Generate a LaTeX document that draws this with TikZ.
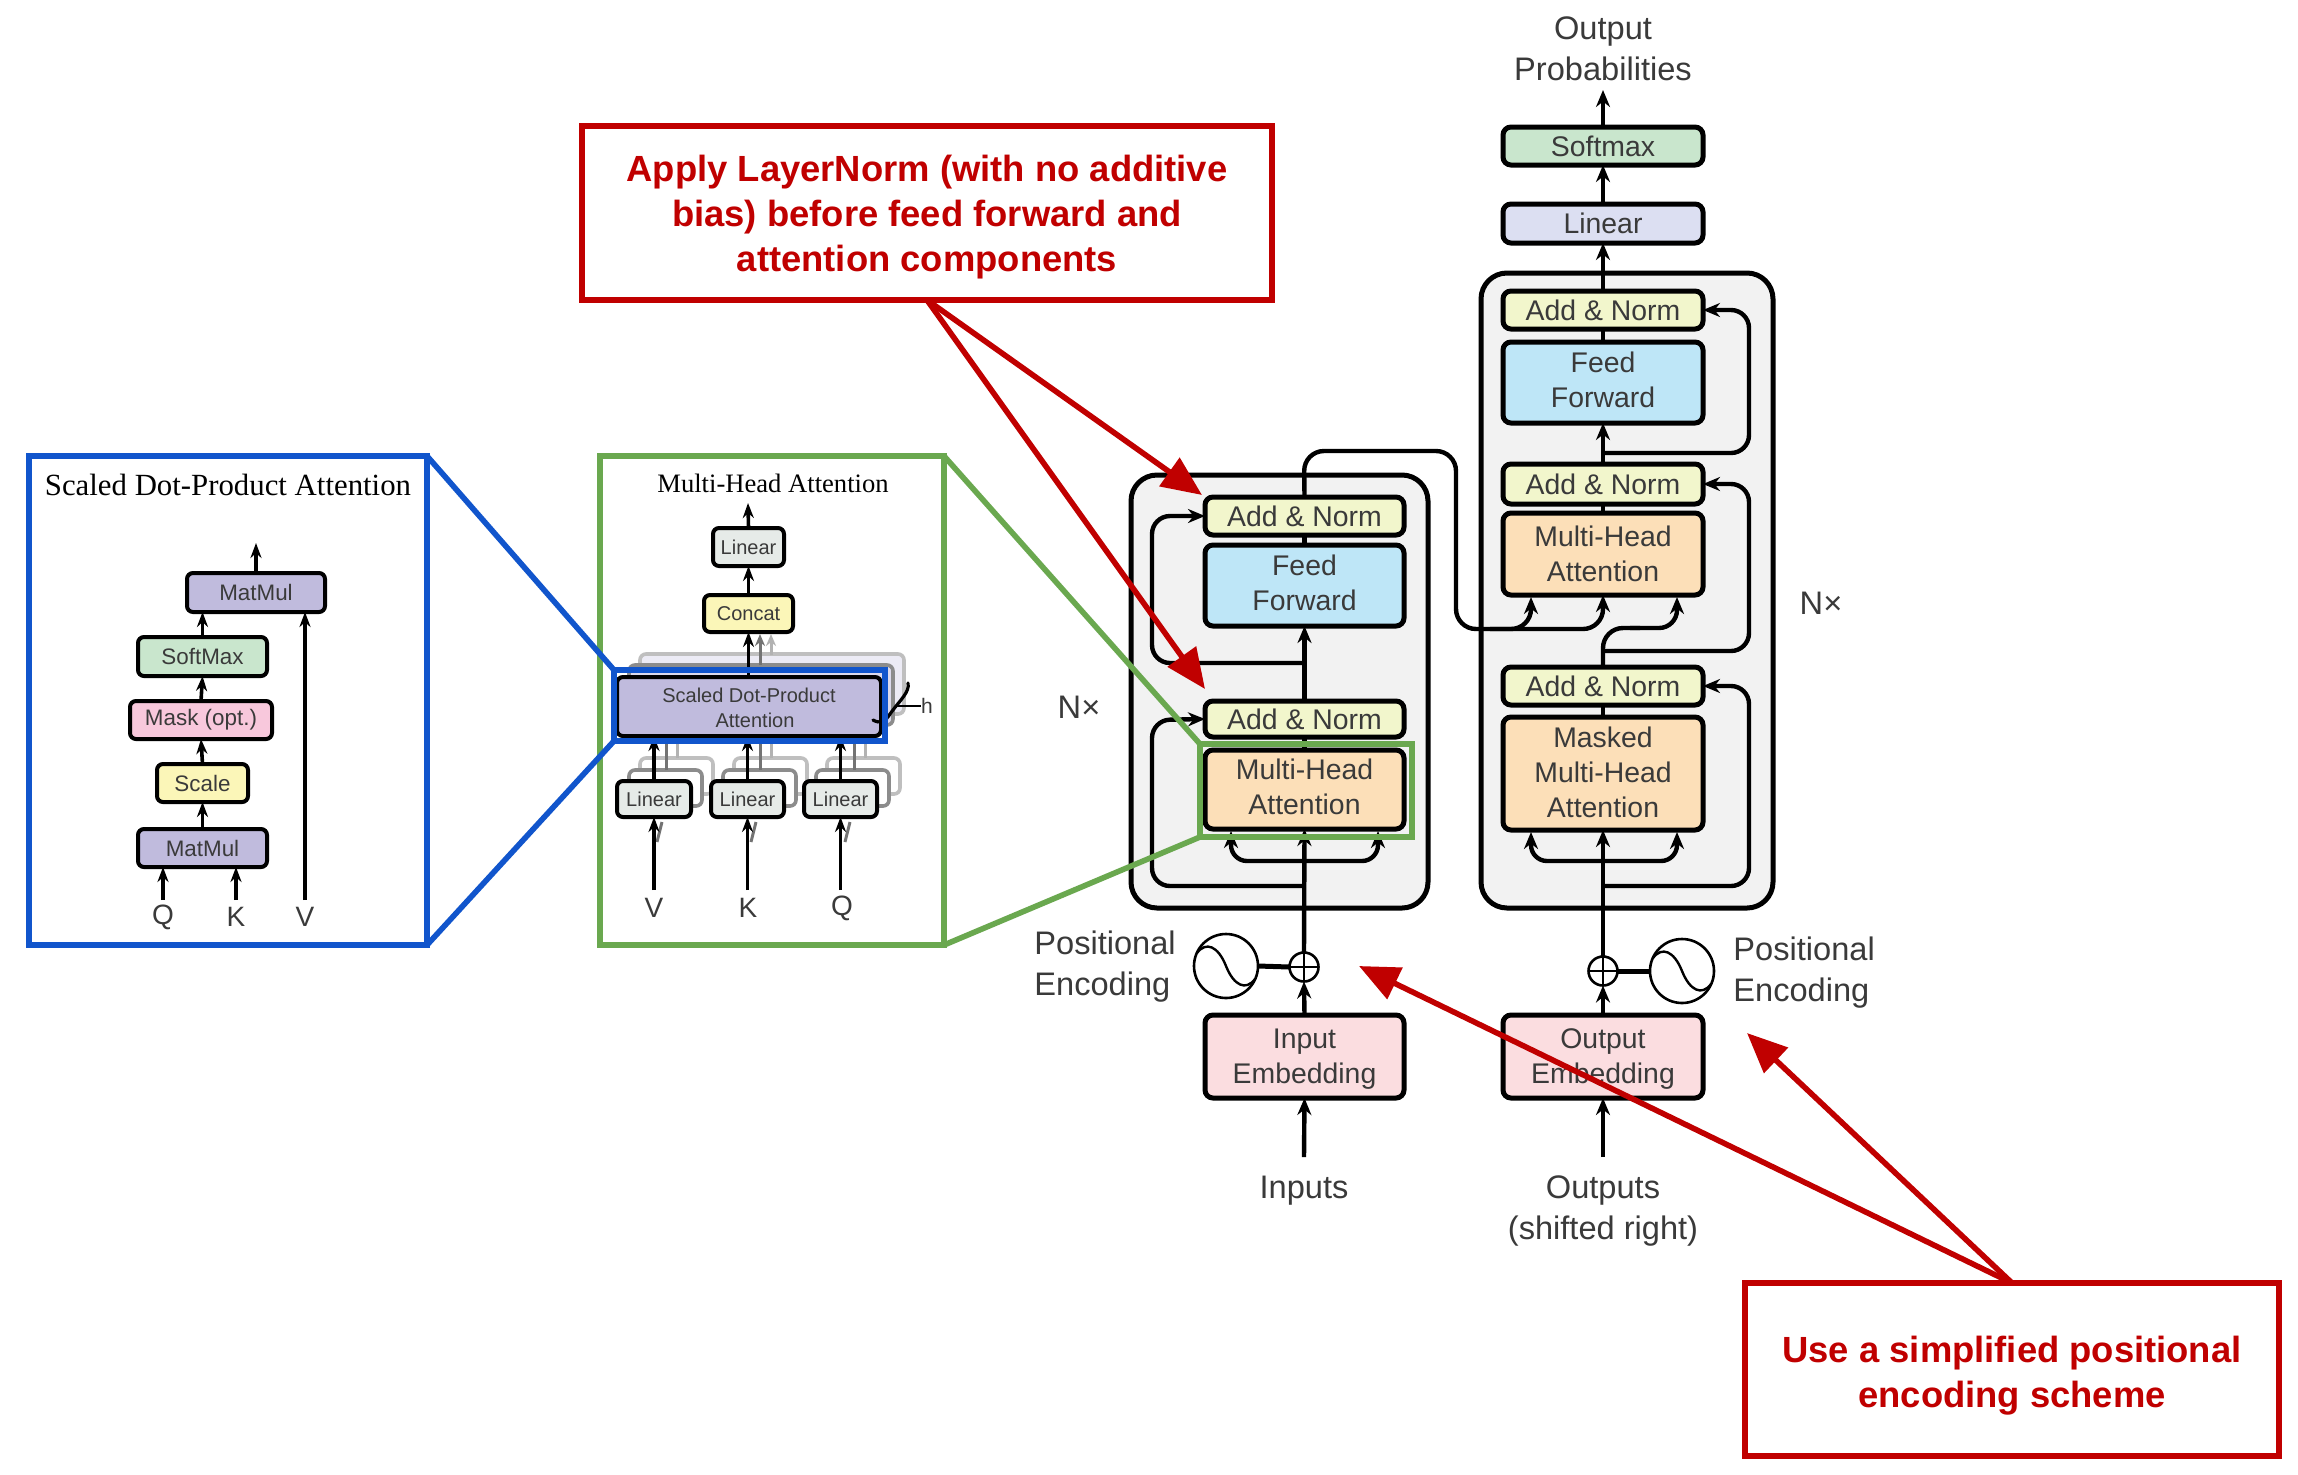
\documentclass[tikz,border=0pt]{standalone}
\usepackage{fontspec}
\setmainfont{Liberation Sans}
\newfontfamily\timesfam{Liberation Serif}
\usetikzlibrary{arrows.meta,calc}
\definecolor{txt}{HTML}{3A3A3A}
\definecolor{callred}{HTML}{C00000}
\definecolor{frameblue}{HTML}{1155CC}
\definecolor{framegreen}{HTML}{6AA84F}
\definecolor{fAN}{HTML}{F2F6CC}
\definecolor{fFF}{HTML}{BEE6F7}
\definecolor{fMH}{HTML}{FCDFB8}
\definecolor{fEM}{HTML}{FBDDE0}
\definecolor{fSM}{HTML}{C9E6CD}
\definecolor{fLI}{HTML}{DCDFF2}
\definecolor{fPU}{HTML}{C0BBDD}
\definecolor{fYE}{HTML}{FBF6B8}
\definecolor{fGR}{HTML}{E6EBE8}
\definecolor{fPK}{HTML}{F8C8DC}
\tikzset{
  x=0.5pt,y=-0.5pt,
  mainbox/.style={draw=black,line width=2.5pt,rounded corners=4pt,outer sep=0pt,inner sep=0pt,align=center,text=txt,font=\fontsize{14.2}{17.5}\selectfont},
  smallbox/.style={draw=black,line width=2pt,rounded corners=3pt,outer sep=0pt,inner sep=0pt,align=center,text=txt,font=\fontsize{11.2}{14}\selectfont},
  tinybox/.style={smallbox,font=\fontsize{10}{12.5}\selectfont},
  ghostA/.style={draw=black!45,line width=1.8pt,rounded corners=3pt,outer sep=0pt},
  ghostB/.style={draw=black!25,line width=1.8pt,rounded corners=3pt,outer sep=0pt},
  layerbox/.style={draw=black,line width=2.5pt,rounded corners=13pt,fill=black!5,outer sep=0pt},
  conn/.style={draw=black,line width=2.2pt,-{Stealth[length=8.5pt,width=7pt]}},
  plainconn/.style={draw=black,line width=2.2pt},
  skip/.style={conn,rounded corners=9pt},
  paneconn/.style={draw=black,line width=1.8pt,-{Stealth[length=7.5pt,width=5.5pt]}},
  frameB/.style={draw=frameblue,line width=2.8pt,outer sep=0pt},
  frameG/.style={draw=framegreen,line width=2.8pt,outer sep=0pt},
  redbox/.style={draw=callred,line width=2.7pt,fill=white,outer sep=0pt,align=center,text=callred,font=\fontsize{18.2}{22.3}\selectfont\bfseries},
  redarrow/.style={draw=callred,line width=2.8pt,-{Triangle[length=20pt,width=17pt]}},
  label/.style={text=txt,inner sep=0pt,align=center,font=\fontsize{16.3}{20.5}\selectfont},
  labelL/.style={text=txt,inner sep=0pt,align=left,font=\fontsize{16.3}{20.5}\selectfont},
  panelabel/.style={text=txt,inner sep=0pt,font=\fontsize{14}{16}\selectfont},
  titleS/.style={text=black,inner sep=0pt,font=\timesfam\fontsize{15.4}{18}\selectfont},
  titleM/.style={text=black,inner sep=0pt,font=\timesfam\fontsize{13.3}{16}\selectfont},
  sumnode/.style={draw=black,line width=1.3pt,circle,minimum size=14.5pt,inner sep=0pt,outer sep=0pt,fill=white},
  sinenode/.style={draw=black,line width=1.3pt,circle,minimum size=32pt,inner sep=0pt,outer sep=0pt,fill=white},
}
% [text shift in px] name, x1, y1, x2, y2, style, text
\newcommand{\bx}[8][0]{%
  \node[#7,minimum width={((#5)-(#3))*0.5pt},minimum height={((#6)-(#4))*0.5pt}] (#2) at ({((#3)+(#5))/2},{((#4)+(#6))/2}) {};
  \node[#7,draw=none,fill=none,minimum width=0pt,minimum height=0pt] (#2t) at ({((#3)+(#5))/2},{((#4)+(#6))/2+(#1)}) {#8};}
\begin{document}
\begin{tikzpicture}
\useasboundingbox[fill=white] (0,0) rectangle (2298,1474);

% ---------- Scaled Dot-Product panel
\bx{panelS}{29}{456}{427}{945}{frameB}{}
\node[titleS] (titleSd) at (228,485) {Scaled Dot-Product Attention};
\bx{matTop}{187}{573}{325}{612}{smallbox,fill=fPU}{MatMul}
\bx{softM}{138}{637}{267}{676}{smallbox,fill=fSM}{SoftMax}
\bx{maskO}{130}{701}{272}{739}{smallbox,fill=fPK}{Mask (opt.)}
\bx{scaleN}{157}{764}{248}{802}{smallbox,fill=fYE}{Scale}
\bx{matBot}{138}{829}{267}{867}{smallbox,fill=fPU}{MatMul}
\node[panelabel] (lQ) at (163,917) {Q};
\node[panelabel] (lK) at (236,917) {K};
\node[panelabel] (lV) at (305,917) {V};
\coordinate (sOut) at (256,543);
\draw[paneconn] (matBot.north) -- (scaleN.south);
\draw[paneconn] (scaleN.north) -- (maskO.south);
\draw[paneconn] (maskO.north) -- (softM.south);
\draw[paneconn] (softM.north) -- (softM.north |- matTop.south);
\draw[paneconn] (matTop.north) -- (sOut);
\draw[paneconn] (lQ.north |- 0,900) -- (lQ.north |- matBot.south);
\draw[paneconn] (lK.north |- 0,900) -- (lK.north |- matBot.south);
\draw[paneconn] (lV.north |- 0,900) -- (lV.north |- matTop.south);

% ---------- Multi-Head panel
\bx{panelM}{600}{456}{944}{945}{frameG}{}
\node[titleM] (titleMh) at (773,483) {Multi-Head Attention};
\bx{mLin}{713}{528}{784}{566}{tinybox,fill=fGR}{Linear}
\bx{mCon}{704}{595}{793}{632}{tinybox,fill=fYE}{Concat}
% ghost stacks
\bx{gS2}{640}{654}{904}{714}{ghostB,fill=fPU!30}{}
\bx{gS1}{629}{665}{893}{725}{ghostA,fill=fPU!55}{}
\draw[draw=black!30,line width=1.5pt,-{Stealth[length=6pt,width=5pt]}] (771,655) -- (771,634);
\draw[draw=black!55,line width=1.5pt,-{Stealth[length=6pt,width=5pt]}] (760,665) -- (760,634);
\foreach \nm/\xa in {a/617,b/711,c/804}{
  \bx{gL2\nm}{\xa+23}{758}{\xa+96}{794}{ghostB,fill=white}{}
  \bx{gL1\nm}{\xa+12}{770}{\xa+85}{806}{ghostA,fill=white}{}
}
\foreach \xa in {654,748,842}{
  \draw[draw=black!30,line width=1.5pt] (\xa+23,758) -- (\xa+23,738);
  \draw[draw=black!55,line width=1.5pt] (\xa+12,770) -- (\xa+12,738);
  \draw[draw=black!55,line width=1.5pt] (\xa+8,822) -- (\xa+3,842);
}
\bx[1.5]{mSD}{617}{677}{881}{736}{tinybox,fill=fPU}{Scaled Dot-Product\\\hspace*{6pt}Attention}
\bx{mLa}{617}{781}{691}{817}{tinybox,fill=fGR}{Linear}
\bx{mLb}{711}{781}{784}{817}{tinybox,fill=fGR}{Linear}
\bx{mLc}{804}{781}{877}{817}{tinybox,fill=fGR}{Linear}
\node[panelabel] (vV) at (654,908) {V};
\node[panelabel] (vK) at (748,908) {K};
\node[panelabel] (vQ) at (842,908) {Q};
\node[panelabel,font=\fontsize{10.5}{12}\selectfont] (hh) at (927,706) {h};
\coordinate (mOut) at (748,503);
\draw[paneconn] (mLin.north) -- (mOut);
\draw[paneconn] (mCon.north) -- (mLin.south);
\draw[paneconn] (mSD.north -| mCon.south) -- (mCon.south);
\draw[paneconn] (mLa.north) -- (mLa.north |- mSD.south);
\draw[paneconn] (mLb.north) -- (mLb.north |- mSD.south);
\draw[paneconn] (mLc.north) -- (mLc.north |- mSD.south);
\draw[paneconn] (mLa.south |- 0,890) -- (mLa.south);
\draw[paneconn] (mLb.south |- 0,890) -- (mLb.south);
\draw[paneconn] (mLc.south |- 0,890) -- (mLc.south);
\draw[line width=1.6pt,line cap=round] (908,683) .. controls (910,692) and (900,700) .. (890,714) .. controls (885,722) and (880,724) .. (873,720);
\draw[line width=0.9pt] (895,706) -- (hh.west);
\bx{inBlue}{614}{670}{885}{741}{frameB}{}
\draw[frameB] (panelS.north east) -- (inBlue.north west);
\draw[frameB] (panelS.south east) -- (inBlue.south west);

% ---------- Transformer encoder / decoder
\bx{encBox}{1131}{475}{1428}{908}{layerbox}{}
\bx{decBox}{1481}{273}{1773}{908}{layerbox}{}

\bx{anE2}{1205}{497}{1404}{535}{mainbox,fill=fAN}{Add \& Norm}
\bx[-3]{ffE}{1205}{545}{1404}{626}{mainbox,fill=fFF}{Feed\\Forward}
\bx{anE1}{1205}{701}{1404}{737}{mainbox,fill=fAN}{Add \& Norm}
\bx[-3]{mhE}{1205}{750}{1404}{829}{mainbox,fill=fMH}{Multi-Head\\Attention}
\bx[3]{inEm}{1205}{1015}{1404}{1098}{mainbox,fill=fEM}{Input\\Embedding}

\bx{soft}{1503}{127}{1703}{165}{mainbox,fill=fSM}{Softmax}
\bx{lin}{1503}{204}{1703}{243}{mainbox,fill=fLI}{Linear}
\bx{anD3}{1503}{291}{1703}{329}{mainbox,fill=fAN}{Add \& Norm}
\bx[-3]{ffD}{1503}{342}{1703}{423}{mainbox,fill=fFF}{Feed\\Forward}
\bx{anD2}{1503}{464}{1703}{504}{mainbox,fill=fAN}{Add \& Norm}
\bx{mhD}{1503}{513}{1703}{595}{mainbox,fill=fMH}{Multi-Head\\Attention}
\bx{anD1}{1503}{667}{1703}{705}{mainbox,fill=fAN}{Add \& Norm}
\bx[-1.5]{mmD}{1503}{717}{1703}{830}{mainbox,fill=fMH}{Masked\\Multi-Head\\Attention}
\bx[3]{outEm}{1503}{1015}{1703}{1098}{mainbox,fill=fEM}{Output\\Embedding}

\node[sumnode] (sumE) at (1304,967) {};
\node[sumnode] (sumD) at (1603,971) {};
\node[sinenode] (sinE) at (1226,966) {};
\node[sinenode] (sinD) at (1682,971) {};
\foreach \s in {sumE,sumD}{
  \draw[line width=1.1pt] (\s.north) -- (\s.south);
  \draw[line width=1.1pt] (\s.west) -- (\s.east);
}
\foreach \s in {sinE,sinD}{
  \draw[line width=1.2pt] ($(\s)+(-29,-13)$) .. controls ($(\s)+(-20,-25)$) and ($(\s)+(-8,-20)$) .. (\s.center) .. controls ($(\s)+(8,20)$) and ($(\s)+(20,25)$) .. ($(\s)+(29,13)$);
}
\draw[line width=2.5pt] (sinE.east) -- (sumE.west);
\draw[line width=2.5pt] (sumD.east) -- (sinD.west);

\node[labelL,anchor=west] (peE) at (1034,967) {Positional\\Encoding};
\node[labelL,anchor=west] (peD) at (1733,973) {Positional\\Encoding};
\node[label] (nxE) at (1079,707) {N×};
\node[label] (nxD) at (1821,603) {N×};
\node[label] (inputsT) at (1304,1191) {Inputs};
\node[label] (outputsT) at (1603,1211) {Outputs\\(shifted right)};
\node[label] (probT) at (1603,49) {Output\\Probabilities};
\coordinate (inS) at (1304,1157);
\coordinate (outS) at (1603,1157);
\coordinate (probA) at (1603,90);

% encoder connectors
\draw[conn] (inS) -- (inEm.south);
\draw[conn] (inEm.north) -- (sumE.south);
\draw[conn] (sumE.north) -- (mhE.south);
\draw[plainconn] (mhE.north) -- (anE1.south);
\draw[conn] (anE1.north) -- (ffE.south);
\draw[plainconn] (ffE.north) -- (anE2.south);
\coordinate (jE1) at (1304,886);
\coordinate (jE2) at (1304,663);
\coordinate (jE3) at (1304,861);
\draw[skip] (jE1) -- (1152,886) -- (1152,720) -- (anE1.west);
\draw[skip] (jE2) -- (1152,663) -- (1152,516) -- (anE2.west);
\coordinate (mhEl) at (1231,831);
\coordinate (mhEr) at (1378,831);
\draw[conn,rounded corners=8pt] (jE3) -- (1231,861) -- (mhEl);
\draw[conn,rounded corners=8pt] (jE3) -- (1378,861) -- (mhEr);
% encoder to decoder
\coordinate (mhDl) at (1531,597);
\coordinate (mhDr) at (1677,597);
\coordinate (jCross) at (1490,629);
\draw[conn,rounded corners=10pt] (anE2.north) -- (1304,451) -- (1456,451) -- (1456,629) -- (1531,629) -- (mhDl);
\draw[conn,rounded corners=10pt] (jCross) -- (1603,629) -- (mhD.south);

% decoder connectors
\draw[conn] (outS) -- (outEm.south);
\draw[conn] (outEm.north) -- (sumD.south);
\draw[conn] (sumD.north) -- (mmD.south);
\draw[plainconn] (mmD.north) -- (anD1.south);
\draw[plainconn] (mhD.north) -- (anD2.south);
\draw[conn] (anD2.north) -- (ffD.south);
\draw[plainconn] (ffD.north) -- (anD3.south);
\draw[conn] (anD3.north) -- (lin.south);
\draw[conn] (lin.north) -- (soft.south);
\draw[conn] (soft.north) -- (probA);
\coordinate (jD1) at (1603,886);
\coordinate (jD2) at (1603,651);
\coordinate (jD3) at (1603,453);
\coordinate (jD4) at (1603,861);
\draw[skip] (jD1) -- (1749,886) -- (1749,686) -- (anD1.east);
\draw[skip] (jD2) -- (1749,651) -- (1749,484) -- (anD2.east);
\draw[skip] (jD3) -- (1749,453) -- (1749,310) -- (anD3.east);
\coordinate (mmDl) at (1531,832);
\coordinate (mmDr) at (1677,832);
\draw[conn,rounded corners=8pt] (jD4) -- (1531,861) -- (mmDl);
\draw[conn,rounded corners=8pt] (jD4) -- (1677,861) -- (mmDr);
\draw[plainconn,rounded corners=10pt] (anD1.north) -- (1603,628) -- (1640,628);
\draw[conn,rounded corners=9pt] (1630,628) -- (1677,628) -- (mhDr);

% green zoom frame
\bx{inGreen}{1200}{744}{1412}{837}{frameG}{}
\draw[frameG] (panelM.north east) -- (inGreen.north west);
\draw[frameG] (panelM.south east) -- (inGreen.south west);

% red callouts
\bx[4]{callA}{582}{126}{1272}{300}{redbox}{Apply LayerNorm (with no additive\\bias) before feed forward and\\attention components}
\bx[6]{callB}{1745}{1283}{2279}{1456}{redbox}{Use a simplified positional\\encoding scheme}
\coordinate (redA1) at (1202,495);
\coordinate (redA2) at (1205,689);
\coordinate (redB1) at (1359,966);
\coordinate (redB2) at (1747,1033);
\draw[redarrow] (callA.south) -- (redA1);
\draw[redarrow] (callA.south) -- (redA2);
\draw[redarrow] (callB.north) -- (redB1);
\draw[redarrow] (callB.north) -- (redB2);
\end{tikzpicture}
\end{document}
